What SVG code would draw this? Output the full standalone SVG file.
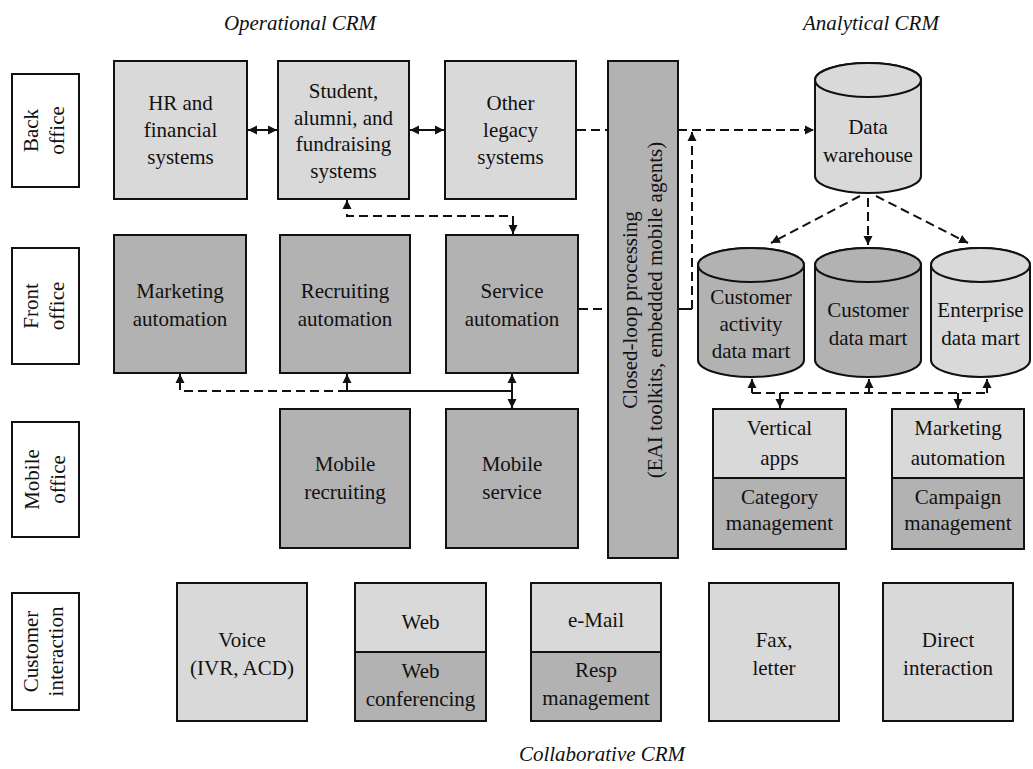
<svg xmlns="http://www.w3.org/2000/svg" width="1033" height="769" viewBox="0 0 1033 769">
<style>
  text { font-family: "Liberation Serif", "Times New Roman", serif; font-size: 21px; fill: #111; text-anchor: middle; }
  .h { font-style: italic; font-size: 21px; }
  .lab { fill: #fff; stroke: #111; stroke-width: 2; }
  .lt { fill: #d9d9d9; stroke: #111; stroke-width: 2; }
  .dk { fill: #b2b2b2; stroke: #111; stroke-width: 2; }
  .ln { fill: none; stroke: #111; stroke-width: 2; }
  .ds { fill: none; stroke: #111; stroke-width: 2; stroke-dasharray: 9 5; }
  .a2 { marker-start: url(#ah); marker-end: url(#ah); }
  .ae { marker-end: url(#ah); }
</style>
<defs>
  <marker id="ah" viewBox="0 0 10 10" refX="10" refY="5" markerWidth="9" markerHeight="10" markerUnits="userSpaceOnUse" orient="auto-start-reverse">
    <path d="M0,0 L10,5 L0,10 z" fill="#111"/>
  </marker>
</defs>
<rect width="1033" height="769" fill="#fff"/>

<!-- headings -->
<text class="h" x="300" y="30">Operational CRM</text>
<text class="h" x="871" y="30">Analytical CRM</text>
<text class="h" x="602" y="761">Collaborative CRM</text>

<!-- row labels -->
<g id="lbl-back">
  <rect class="lab" x="12" y="74" width="67" height="113"/>
  <g transform="translate(46,130.5) rotate(-90)"><text x="0" y="-8">Back</text><text x="0" y="18">office</text></g>
</g>
<g id="lbl-front">
  <rect class="lab" x="12" y="248" width="67" height="116"/>
  <g transform="translate(46,306) rotate(-90)"><text x="0" y="-8">Front</text><text x="0" y="18">office</text></g>
</g>
<g id="lbl-mobile">
  <rect class="lab" x="12" y="422" width="67" height="115"/>
  <g transform="translate(46,479.5) rotate(-90)"><text x="0" y="-7">Mobile</text><text x="0" y="19">office</text></g>
</g>
<g id="lbl-customer">
  <rect class="lab" x="12" y="593" width="67" height="117"/>
  <g transform="translate(46,651.5) rotate(-90)"><text x="0" y="-8">Customer</text><text x="0" y="17">interaction</text></g>
</g>

<!-- connectors -->
<g id="connectors">
  <line class="ln a2" x1="248" y1="130" x2="277" y2="130"/>
  <line class="ln a2" x1="410" y1="130" x2="444" y2="130"/>
  <line class="ds" x1="577" y1="130" x2="608" y2="130"/>
  <line class="ds ae" x1="678" y1="130" x2="814" y2="130"/>
  <path class="ds ae" d="M692,309 L692,132"/>
  <line class="ln" x1="678" y1="309" x2="692" y2="309"/>
  <line class="ds" x1="579" y1="309" x2="608" y2="309"/>
  <path class="ds a2" d="M347,200 L347,216 L513,216 L513,234"/>
  <path class="ds ae" d="M347,391 L180,391 L180,374"/>
  <path class="ln ae" d="M347,391 L347,374"/>
  <line class="ln" x1="347" y1="391" x2="512" y2="391"/>
  <line class="ln a2" x1="512" y1="374" x2="512" y2="408"/>
  <line class="ds ae" x1="860" y1="196" x2="771" y2="243"/>
  <line class="ds ae" x1="868" y1="198" x2="868" y2="245"/>
  <line class="ds ae" x1="876" y1="196" x2="968" y2="243"/>
  <line class="ds" x1="752" y1="393" x2="987" y2="393"/>
  <line class="ln ae" x1="752" y1="393" x2="752" y2="379"/>
  <line class="ln ae" x1="869" y1="393" x2="869" y2="379"/>
  <line class="ln ae" x1="987" y1="393" x2="987" y2="379"/>
  <line class="ln ae" x1="780" y1="393" x2="780" y2="408"/>
  <line class="ln ae" x1="958" y1="393" x2="958" y2="408"/>
</g>

<!-- back office -->
<g id="hr">
  <rect class="lt" x="114" y="61" width="133" height="138"/>
  <text x="180.5" y="110">HR and</text><text x="180.5" y="137">financial</text><text x="180.5" y="164">systems</text>
</g>
<g id="student">
  <rect class="lt" x="278" y="61" width="131" height="138"/>
  <text x="343.5" y="98">Student,</text><text x="343.5" y="125">alumni, and</text><text x="343.5" y="151">fundraising</text><text x="343.5" y="178">systems</text>
</g>
<g id="legacy">
  <rect class="lt" x="445" y="61" width="131" height="138"/>
  <text x="510.5" y="110">Other</text><text x="510.5" y="137">legacy</text><text x="510.5" y="164">systems</text>
</g>

<!-- closed loop bar -->
<g id="closed-loop">
  <rect class="dk" x="608" y="61" width="70" height="497"/>
  <g transform="translate(643,310) rotate(-90)"><text x="0" y="-6">Closed-loop processing</text><text x="0" y="19">(EAI toolkits, embedded mobile agents)</text></g>
</g>

<!-- front office -->
<g id="marketing">
  <rect class="dk" x="114" y="235" width="132" height="138"/>
  <text x="180" y="298">Marketing</text><text x="180" y="326">automation</text>
</g>
<g id="recruiting">
  <rect class="dk" x="280" y="235" width="130" height="138"/>
  <text x="345" y="298">Recruiting</text><text x="345" y="326">automation</text>
</g>
<g id="service">
  <rect class="dk" x="446" y="235" width="132" height="138"/>
  <text x="512" y="298">Service</text><text x="512" y="326">automation</text>
</g>

<!-- mobile -->
<g id="mobile-recruiting">
  <rect class="dk" x="280" y="409" width="130" height="139"/>
  <text x="345" y="471">Mobile</text><text x="345" y="499">recruiting</text>
</g>
<g id="mobile-service">
  <rect class="dk" x="446" y="409" width="132" height="139"/>
  <text x="512" y="471">Mobile</text><text x="512" y="499">service</text>
</g>

<!-- data warehouse -->
<g id="data-warehouse">
  <path class="lt" d="M815,80 L815,176 A53,17 0 0 0 921,176 L921,80 A53,17 0 0 0 815,80 Z"/>
  <ellipse class="lt" cx="868" cy="80" rx="53" ry="17"/>
  <text x="868" y="134">Data</text><text x="868" y="162">warehouse</text>
</g>
<g id="activity-mart">
  <path class="dk" d="M698,265 L698,360 A53,17 0 0 0 804,360 L804,265 A53,17 0 0 0 698,265 Z"/>
  <ellipse class="dk" cx="751" cy="265" rx="53" ry="17"/>
  <text x="751" y="304">Customer</text><text x="751" y="331">activity</text><text x="751" y="358">data mart</text>
</g>
<g id="customer-mart">
  <path class="dk" d="M815,265 L815,360 A53,17 0 0 0 921,360 L921,265 A53,17 0 0 0 815,265 Z"/>
  <ellipse class="dk" cx="868" cy="265" rx="53" ry="17"/>
  <text x="868" y="317">Customer</text><text x="868" y="345">data mart</text>
</g>
<g id="enterprise-mart">
  <path class="lt" d="M931,265 L931,360 A49.5,17 0 0 0 1030,360 L1030,265 A49.5,17 0 0 0 931,265 Z"/>
  <ellipse class="lt" cx="980.5" cy="265" rx="49.5" ry="17"/>
  <text x="980.5" y="317">Enterprise</text><text x="980.5" y="345">data mart</text>
</g>

<!-- analytical apps -->
<g id="vertical-apps">
  <rect class="lt" x="713" y="409" width="133" height="69"/>
  <rect class="dk" x="713" y="478" width="133" height="71"/>
  <text x="779.5" y="435">Vertical</text><text x="779.5" y="465">apps</text>
  <text x="779.5" y="504">Category</text><text x="779.5" y="530">management</text>
</g>
<g id="marketing-analytical">
  <rect class="lt" x="892" y="409" width="132" height="69"/>
  <rect class="dk" x="892" y="478" width="132" height="71"/>
  <text x="958" y="435">Marketing</text><text x="958" y="465">automation</text>
  <text x="958" y="504">Campaign</text><text x="958" y="530">management</text>
</g>

<!-- customer interaction -->
<g id="voice">
  <rect class="lt" x="177" y="583" width="130" height="138"/>
  <text x="242" y="647">Voice</text><text x="242" y="675">(IVR, ACD)</text>
</g>
<g id="web">
  <rect class="lt" x="355" y="583" width="131" height="69"/>
  <rect class="dk" x="355" y="652" width="131" height="69"/>
  <text x="420.5" y="629">Web</text><text x="420.5" y="678">Web</text><text x="420.5" y="706">conferencing</text>
</g>
<g id="email">
  <rect class="lt" x="531" y="583" width="130" height="69"/>
  <rect class="dk" x="531" y="652" width="130" height="69"/>
  <text x="596" y="627">e-Mail</text><text x="596" y="677">Resp</text><text x="596" y="705">management</text>
</g>
<g id="fax">
  <rect class="lt" x="709" y="583" width="130" height="138"/>
  <text x="774" y="647">Fax,</text><text x="774" y="675">letter</text>
</g>
<g id="direct">
  <rect class="lt" x="883" y="583" width="130" height="138"/>
  <text x="948" y="647">Direct</text><text x="948" y="675">interaction</text>
</g>
</svg>
